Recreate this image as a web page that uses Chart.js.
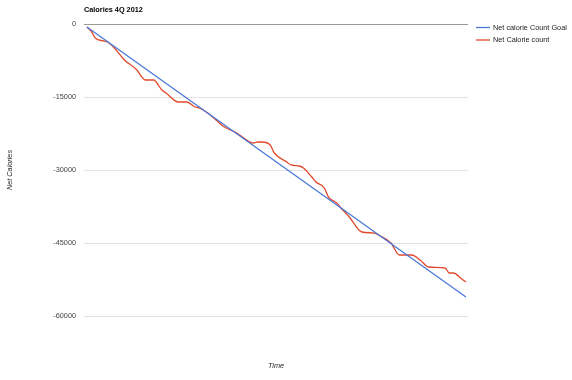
<!DOCTYPE html>
<html lang="en">
<head>
    <meta charset="UTF-8">
    <title>Calories 4Q 2012</title>
    <script src="https://cdn.jsdelivr.net/npm/chart.js"></script>
    <style>
        body {
            margin: 0;
            background-color: #fff;
        }

        .chart-box {
            width: 572px;
            height: 380px;
        }
    </style>
</head>
<body>
    <div class="chart-box">
        <canvas id="calorieChart" width="572" height="380"></canvas>
    </div>

    <script>
        // Goal line (straight, only the two ends)
        const goalDays = [1, 92];
        const goalValues = [-620, -56100];

        const countDays = [1, 2, 3, 5, 6, 8, 10, 13, 14, 15, 17, 19, 20, 23, 25, 27, 28, 30, 32, 34,
            37, 39, 41, 42, 43, 45, 46, 49, 50, 52, 53, 55, 56, 58, 59, 61, 62, 64, 67, 70,
            71, 74, 76, 79, 81, 83, 87, 88, 89, 91, 92];
        const countValues = [-620, -1440, -2880, -3490, -3700, -5340, -7400, -9450, -10680, -11510,
            -11510, -13560, -14180, -16030, -16030, -17050, -17260, -18290, -19730, -21160,
            -22400, -23630, -24450, -24250, -24250, -24860, -26510, -28360, -28970, -29180,
            -29590, -31440, -32470, -33700, -35550, -36780, -37810, -39660, -42740, -42950,
            -43360, -45000, -47470, -47470, -48490, -49930, -50140, -51160, -51160, -52400, -53010];

        const yTicks = [0, -15000, -30000, -45000, -60000];
        const seriesNames = ['Net calorie Count Goal', 'Net Calorie count'];
        const seriesColors = ['#4a78d8', '#e2492a'];

        const FONT = '"Liberation Sans", Arial, sans-serif';

        function toPoints(xs, ys) {
            return xs.map((x, i) => ({ x: x, y: ys[i] }));
        }

        // titles and legend, drawn in the Google chart spots
        const extras = {
            id: 'extras',
            afterDraw(chart) {
                const c = chart.ctx;
                c.save();
                c.textBaseline = 'middle';

                c.fillStyle = '#000';
                c.font = 'bold 7.3px ' + FONT;
                c.textAlign = 'left';
                c.fillText('Calories 4Q 2012', 84, 10);

                c.font = '7.3px ' + FONT;
                seriesNames.forEach((name, i) => {
                    const y = 27.5 + i * 12.5;
                    c.strokeStyle = seriesColors[i];
                    c.lineWidth = 1.3;
                    c.beginPath();
                    c.moveTo(476, y);
                    c.lineTo(490, y);
                    c.stroke();
                    c.fillStyle = '#222';
                    c.fillText(name, 493, y);
                });

                c.font = 'italic 7.3px ' + FONT;
                c.fillStyle = '#222';
                c.textAlign = 'center';
                c.fillText('Time', 276, 366);

                c.translate(10, 170);
                c.rotate(-Math.PI / 2);
                c.fillText('Net Calories', 0, 0);
                c.restore();
            }
        };

        const ctx = document.getElementById('calorieChart').getContext('2d');
        const calorieChart = new Chart(ctx, {
            type: 'line',
            data: {
                datasets: [{
                    label: seriesNames[0],
                    data: toPoints(goalDays, goalValues),
                    borderColor: seriesColors[0],
                    borderWidth: 1.3,
                    pointRadius: 0
                }, {
                    label: seriesNames[1],
                    data: toPoints(countDays, countValues),
                    borderColor: seriesColors[1],
                    borderWidth: 1.3,
                    pointRadius: 0,
                    cubicInterpolationMode: 'monotone'
                }]
            },
            options: {
                responsive: false,
                animation: false,
                layout: {
                    padding: { left: 0, right: 104, top: 24, bottom: 64 }
                },
                plugins: {
                    legend: { display: false },
                    title: { display: false },
                    tooltip: { enabled: false }
                },
                scales: {
                    x: {
                        type: 'linear',
                        min: 0.3,
                        max: 92.5,
                        display: false
                    },
                    y: {
                        min: -60000,
                        max: 0,
                        afterFit(scale) {
                            scale.width = 84;
                        },
                        afterBuildTicks(scale) {
                            scale.ticks = yTicks.map(v => ({ value: v }));
                        },
                        border: { display: false },
                        grid: {
                            drawTicks: false,
                            lineWidth: 1,
                            color: c => c.tick && c.tick.value === 0 ? '#9a9a9a' : '#e4e4e4'
                        },
                        ticks: {
                            padding: 8,
                            color: '#444',
                            font: { family: FONT, size: 7.3 },
                            callback: v => String(v)
                        }
                    }
                }
            },
            plugins: [extras]
        });
    </script>
</body>
</html>
